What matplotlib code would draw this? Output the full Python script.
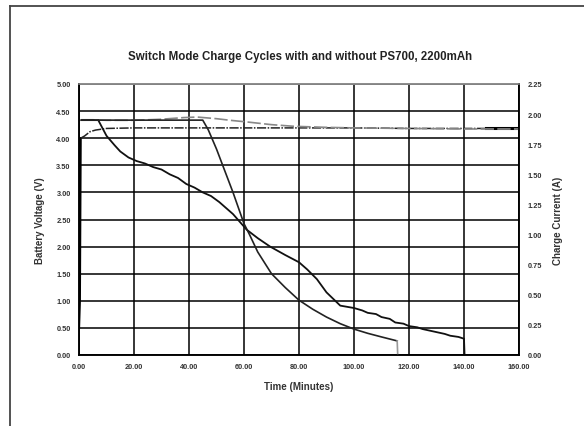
import matplotlib
matplotlib.use('Agg')
import matplotlib.pyplot as plt
from matplotlib.lines import Line2D

plt.rcParams['font.family'] = ['Liberation Sans', 'DejaVu Sans']
plt.rcParams['font.weight'] = 'bold'

# voltage without PS700 (left axis, V)
v1_t = [0, 0.3, 0.6, 2, 4, 6, 10, 20, 40, 60, 80, 100, 120, 140, 148, 160]
v1_v = [0.5, 1.0, 4.0, 4.04, 4.12, 4.15, 4.18, 4.19, 4.19, 4.19, 4.19, 4.19, 4.18, 4.18, 4.18, 4.18]

# voltage with PS700 (left axis, V)
v2_t = [0.8, 5, 10, 20, 30, 38, 43, 50, 55, 61, 70, 78, 90, 100, 120, 140, 160]
v2_v = [4.34, 4.34, 4.33, 4.33, 4.35, 4.38, 4.39, 4.36, 4.33, 4.30, 4.25, 4.22, 4.20, 4.19, 4.18, 4.17, 4.17]

# current, long cycle (right axis, A)
i1_t = [0.8, 7, 10, 13, 15, 18, 21, 24, 27, 30, 33, 36, 39, 42, 45, 48, 51, 56, 61, 65, 69.5, 75,
        80, 83, 86.5, 90, 95, 100, 103, 105, 108, 110, 113, 115, 118, 120, 123, 125, 128, 130,
        133, 135, 138, 140, 140.2]
i1_a = [1.95, 1.95, 1.82, 1.74, 1.69, 1.64, 1.61, 1.59, 1.56, 1.54, 1.50, 1.47, 1.42, 1.39, 1.35,
        1.32, 1.27, 1.17, 1.04, 0.97, 0.90, 0.83, 0.77, 0.71, 0.63, 0.52, 0.41, 0.39, 0.37, 0.35,
        0.34, 0.315, 0.30, 0.27, 0.26, 0.24, 0.23, 0.215, 0.20, 0.19, 0.175, 0.16, 0.15, 0.135, 0.0]

# current, short cycle (right axis, A)
i2_t = [1, 10, 20, 30, 40, 45, 47, 50, 53, 56, 58, 60, 62, 65, 70, 75, 80, 85, 90, 95, 100,
        105, 110, 115.7, 115.9]
i2_a = [1.95, 1.95, 1.95, 1.95, 1.95, 1.95, 1.87, 1.71, 1.53, 1.35, 1.22, 1.09, 1.00, 0.855,
        0.675, 0.56, 0.455, 0.38, 0.315, 0.26, 0.215, 0.18, 0.15, 0.117, 0.0]

x_ticks = [0, 20, 40, 60, 80, 100, 120, 140, 160]
v_ticks = [0, 0.5, 1.0, 1.5, 2.0, 2.5, 3.0, 3.5, 4.0, 4.5, 5.0]
a_ticks = [0, 0.25, 0.5, 0.75, 1.0, 1.25, 1.5, 1.75, 2.0, 2.25]

fig = plt.figure(figsize=(5.84, 4.27), dpi=100)
ax = fig.add_axes([79/584, 1-356/427, 440/584, 271/427])
ax2 = ax.twinx()

ax.set_xlim(0, 160)
ax.set_ylim(0, 5)
ax2.set_ylim(0, 2.25)
ax.set_xticks(x_ticks)
ax.set_yticks(v_ticks)
ax2.set_yticks(a_ticks)
ax.set_xticklabels(['%.2f' % t for t in x_ticks], fontweight='bold')
ax.set_yticklabels(['%.2f' % t for t in v_ticks], fontweight='bold')
ax2.set_yticklabels(['%.2f' % t for t in a_ticks], fontweight='bold')
ax.tick_params(length=0, labelsize=5.3, pad=6, colors='#333333')
ax2.tick_params(length=0, labelsize=5.3, pad=6, colors='#333333')
ax.grid(True, color='black', lw=1.1)
ax.set_axisbelow(True)
for a in (ax, ax2):
    for s in a.spines.values():
        s.set_color('black')
        s.set_linewidth(1.1)
    a.spines['top'].set_color('#888888')

ax.plot(v1_t[:3], v1_v[:3], color='black', lw=1.6)
ax.plot(v1_t[2:], v1_v[2:], color='#222222', lw=1.1, ls=(0, (6, 1, 1, 1)))
ax.plot(v1_t[-2:], v1_v[-2:], color='black', lw=2.2)
ax.plot(v2_t, v2_v, color='#888888', lw=1.2, ls=(0, (8, 2)))
ax2.plot(i1_t, i1_a, color='#111111', lw=1.3)
ax2.plot(i2_t[:-1], i2_a[:-1], color='#222222', lw=1.2)
ax2.plot(i2_t[-2:], i2_a[-2:], color='#999999', lw=1.2)

ax.set_xlabel('Time (Minutes)', fontsize=7, fontweight='bold', labelpad=8, color='#333333')
ax.set_ylabel('Battery Voltage (V)', fontsize=7, fontweight='bold', labelpad=8, color='#333333')
ax2.set_ylabel('Charge Current (A)', fontsize=7, fontweight='bold', labelpad=8, color='#333333')
fig.text(300/584, 1-57/427, 'Switch Mode Charge Cycles with and without PS700, 2200mAh',
         ha='center', va='center', fontsize=8.3, fontweight='bold', color='#222222')

# outer frame (only top and left edges are visible)
fig.add_artist(Line2D([10/584, 1], [1-7/427, 1-7/427], color='#444444', lw=1.3))
fig.add_artist(Line2D([10/584, 10/584], [0, 1-7/427], color='#444444', lw=1.3))

fig.savefig('out.png', dpi=100)
